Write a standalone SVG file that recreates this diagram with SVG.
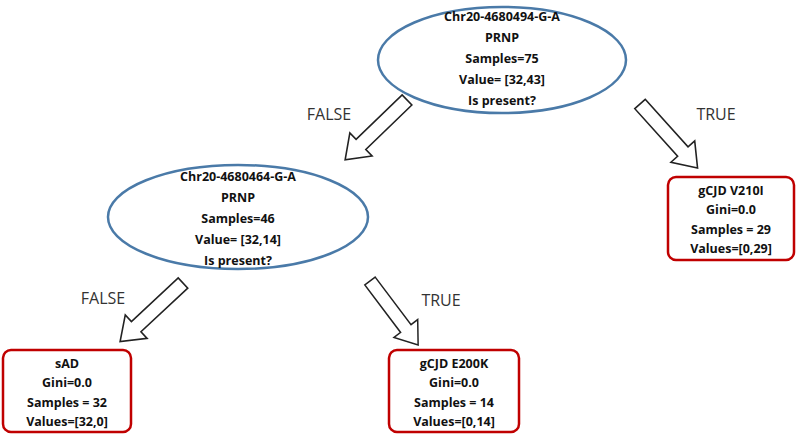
<svg xmlns="http://www.w3.org/2000/svg" width="797" height="435" viewBox="0 0 797 435">
<style>
.e{fill:#fff;stroke:#4a7aa8;stroke-width:2.5}
.b{fill:#fff;stroke:#c00000;stroke-width:2.5}
.t{font-family:"Open Sans","Liberation Sans",sans-serif;font-weight:bold;font-size:12.5px;fill:#111;text-anchor:middle}
.l{font-family:"Open Sans","Liberation Sans",sans-serif;font-size:16px;fill:#333;text-anchor:middle}
.a{fill:#fff;stroke:#222;stroke-width:1.6;stroke-linejoin:miter}
</style>
<defs>
<path id="arr" d="M0,-7 L64,-7 L64,-16 L86,0 L64,16 L64,7 L0,7 Z"/>
</defs>
<rect width="797" height="435" fill="#fff"/>
<g id="connectors">
<use href="#arr" class="a" transform="translate(407,100) rotate(136)"/>
<use href="#arr" class="a" transform="translate(640,104) rotate(48)"/>
<use href="#arr" class="a" transform="translate(183,283) rotate(137)"/>
<use href="#arr" class="a" transform="translate(370,281) rotate(53) scale(0.93)"/>
<text class="l" x="329" y="120">FALSE</text>
<text class="l" x="716" y="120">TRUE</text>
<text class="l" x="103" y="304">FALSE</text>
<text class="l" x="441" y="306">TRUE</text>
</g>
<g id="root">
<ellipse class="e" cx="502" cy="60" rx="124" ry="53"/>
<text class="t" x="502" y="21">Chr20-4680494-G-A</text>
<text class="t" x="502" y="42">PRNP</text>
<text class="t" x="502" y="63">Samples=75</text>
<text class="t" x="502" y="84">Value= [32,43]</text>
<text class="t" x="502" y="105">Is present?</text>
</g>
<g id="node2">
<ellipse class="e" cx="238" cy="217" rx="130" ry="52"/>
<text class="t" x="238" y="181">Chr20-4680464-G-A</text>
<text class="t" x="238" y="202">PRNP</text>
<text class="t" x="238" y="223">Samples=46</text>
<text class="t" x="238" y="244">Value= [32,14]</text>
<text class="t" x="238" y="265">Is present?</text>
</g>
<g id="leafV210I">
<rect class="b" x="668" y="177" width="126" height="83" rx="8"/>
<text class="t" x="731" y="195">gCJD V210I</text>
<text class="t" x="731" y="214">Gini=0.0</text>
<text class="t" x="731" y="234">Samples = 29</text>
<text class="t" x="731" y="253">Values=[0,29]</text>
</g>
<g id="leafsAD">
<rect class="b" x="3" y="350" width="128" height="82" rx="8"/>
<text class="t" x="67" y="368">sAD</text>
<text class="t" x="67" y="387">Gini=0.0</text>
<text class="t" x="67" y="407">Samples = 32</text>
<text class="t" x="67" y="426">Values=[32,0]</text>
</g>
<g id="leafE200K">
<rect class="b" x="389" y="350" width="130" height="82" rx="8"/>
<text class="t" x="454" y="368">gCJD E200K</text>
<text class="t" x="454" y="387">Gini=0.0</text>
<text class="t" x="454" y="407">Samples = 14</text>
<text class="t" x="454" y="426">Values=[0,14]</text>
</g>
</svg>
